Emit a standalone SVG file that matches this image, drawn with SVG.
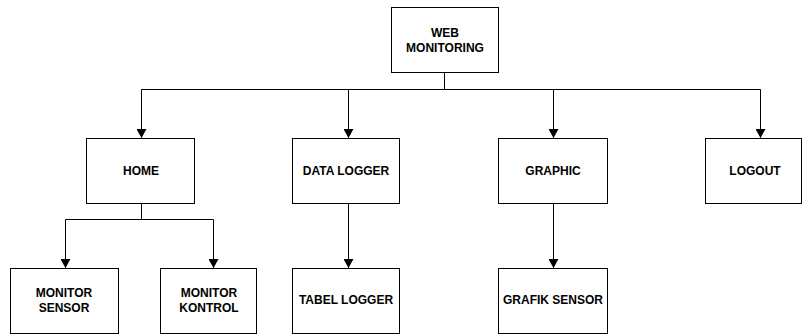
<svg xmlns="http://www.w3.org/2000/svg" width="803" height="334" viewBox="0 0 803 334">
<style>
.box{fill:#fff;stroke:#000;stroke-width:1}
.t{font-family:"Liberation Sans",Arial,sans-serif;font-weight:bold;font-size:12px;text-anchor:middle;fill:#000}
.c{fill:none;stroke:#000;stroke-width:1}
</style>
<defs>
<marker id="arr" markerWidth="10" markerHeight="10" refX="9" refY="5" orient="auto" markerUnits="userSpaceOnUse">
<path d="M0,0 L9,5 L0,10 Z" fill="#000"/>
</marker>
</defs>
<rect width="803" height="334" fill="#fff"/>
<g id="connectors">
<path class="c" d="M444.5,72 V89.5"/>
<path class="c" d="M141.5,89.5 H760.5"/>
<path class="c" d="M141.5,89.5 V138" marker-end="url(#arr)"/>
<path class="c" d="M348.5,89.5 V138" marker-end="url(#arr)"/>
<path class="c" d="M553.5,89.5 V138" marker-end="url(#arr)"/>
<path class="c" d="M760.5,89.5 V138" marker-end="url(#arr)"/>
<path class="c" d="M141.5,203 V219.5"/>
<path class="c" d="M65.5,219.5 H213.5"/>
<path class="c" d="M65.5,219.5 V268" marker-end="url(#arr)"/>
<path class="c" d="M213.5,219.5 V268" marker-end="url(#arr)"/>
<path class="c" d="M348.5,203 V268" marker-end="url(#arr)"/>
<path class="c" d="M553.5,203 V268" marker-end="url(#arr)"/>
</g>
<g id="web-monitoring">
<rect class="box" x="391.5" y="7.5" width="107" height="65"/>
<text class="t" x="445" y="37">WEB</text>
<text class="t" x="445" y="52">MONITORING</text>
</g>
<g id="home">
<rect class="box" x="86.5" y="138.5" width="108" height="65"/>
<text class="t" x="141" y="175">HOME</text>
</g>
<g id="data-logger">
<rect class="box" x="292.5" y="138.5" width="107" height="65"/>
<text class="t" x="346" y="175">DATA LOGGER</text>
</g>
<g id="graphic">
<rect class="box" x="498.5" y="138.5" width="109" height="65"/>
<text class="t" x="553" y="175">GRAPHIC</text>
</g>
<g id="logout">
<rect class="box" x="705.5" y="138.5" width="96" height="65"/>
<text class="t" x="755" y="175">LOGOUT</text>
</g>
<g id="monitor-sensor">
<rect class="box" x="10.5" y="268.5" width="108" height="65"/>
<text class="t" x="64" y="297">MONITOR</text>
<text class="t" x="64" y="312">SENSOR</text>
</g>
<g id="monitor-kontrol">
<rect class="box" x="160.5" y="268.5" width="96" height="65"/>
<text class="t" x="209" y="297">MONITOR</text>
<text class="t" x="209" y="312">KONTROL</text>
</g>
<g id="tabel-logger">
<rect class="box" x="292.5" y="268.5" width="107" height="65"/>
<text class="t" x="346" y="304">TABEL LOGGER</text>
</g>
<g id="grafik-sensor">
<rect class="box" x="498.5" y="268.5" width="109" height="65"/>
<text class="t" x="553" y="304">GRAFIK SENSOR</text>
</g>
</svg>
